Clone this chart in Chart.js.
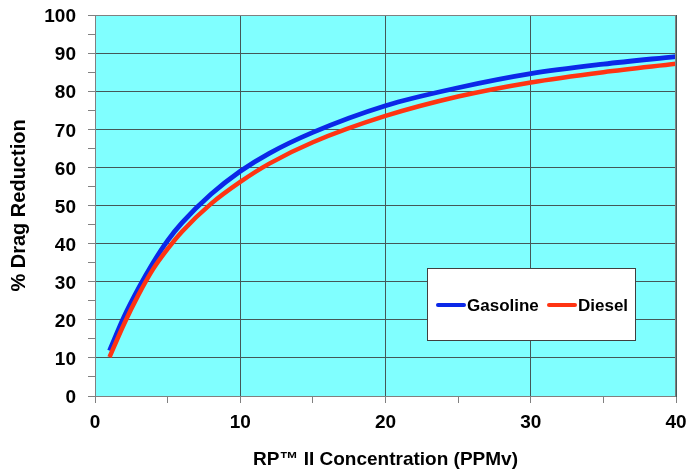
<!DOCTYPE html>
<html>
<head>
<meta charset="utf-8">
<script src="https://cdn.jsdelivr.net/npm/chart.js@4"></script>
<style>
  html, body { margin: 0; padding: 0; background: #fff; }
  #wrap { width: 688px; height: 470px; }
</style>
</head>
<body>
<div id="wrap"><canvas id="dragChart" width="688" height="470"></canvas></div>
<script>
/* ================== DATA ================== */
const concentration = [1, 2, 3, 4, 5, 6, 8, 10, 12, 15, 20, 25, 30, 35, 40];
const gasoline = [11.9, 20.8, 28.3, 35.0, 40.8, 45.5, 53.0, 59.0, 63.7, 69.2, 76.2, 80.9, 84.6, 87.1, 89.1];
const diesel   = [10.2, 18.9, 26.6, 33.3, 38.6, 43.2, 50.5, 56.2, 61.0, 66.6, 73.5, 78.6, 82.3, 85.0, 87.2];
const seriesNames = ["Gasoline", "Diesel"];

/* ================== STYLE ================== */
const FONT = "'Liberation Sans', Arial, sans-serif";
const GRID = "#445858";
const EDGE = "#808080";

function points(values) {
  return concentration.map((c, i) => ({ x: c, y: values[i] }));
}

function majorOnly(v) {
  return v % 10 === 0 ? v : "";
}

/* ================== PLUGINS ================== */
const plotBackground = {
  id: "plotBackground",
  beforeDraw(chart) {
    const { ctx, chartArea: a } = chart;
    ctx.save();
    ctx.fillStyle = "#80ffff";
    ctx.fillRect(a.left, a.top, a.right - a.left, a.bottom - a.top);
    ctx.restore();
  },
  afterDatasetsDraw(chart) {
    const { ctx, chartArea: a } = chart;
    ctx.save();
    ctx.strokeStyle = EDGE;
    ctx.lineWidth = 1;
    ctx.strokeRect(a.left + 0.5, a.top + 0.5, a.right - a.left - 1, a.bottom - a.top);
    ctx.restore();
  }
};

// legend box sits inside the plot, drawn from the dataset labels/colours
const boxLegend = {
  id: "boxLegend",
  afterDraw(chart) {
    const { ctx } = chart;
    const ds = chart.data.datasets;
    ctx.save();
    ctx.fillStyle = "#fff";
    ctx.fillRect(427, 268, 209, 73);
    ctx.strokeStyle = "#404040";
    ctx.lineWidth = 1;
    ctx.strokeRect(427.5, 268.5, 208, 72);

    ctx.font = "bold 17px " + FONT;
    ctx.textBaseline = "middle";
    ctx.textAlign = "left";
    const y = 305;
    const starts = [438, 549];
    ds.forEach((d, i) => {
      const x = starts[i];
      ctx.strokeStyle = d.borderColor;
      ctx.lineWidth = 4;
      ctx.lineCap = "round";
      ctx.beginPath();
      ctx.moveTo(x, y);
      ctx.lineTo(x + 26, y);
      ctx.stroke();
      ctx.fillStyle = "#000";
      ctx.fillText(d.label, x + 29, y + 1);
    });
    ctx.restore();
  }
};

/* ================== CHART ================== */
const chart = new Chart(document.getElementById("dragChart"), {
  type: "line",
  data: {
    datasets: [
      {
        label: seriesNames[0],
        data: points(gasoline),
        borderColor: "#0b28e8",
        borderWidth: 4.8,
        pointRadius: 0,
        cubicInterpolationMode: "monotone",
        order: 1
      },
      {
        label: seriesNames[1],
        data: points(diesel),
        borderColor: "#ff3412",
        borderWidth: 4.5,
        pointRadius: 0,
        cubicInterpolationMode: "monotone",
        order: 0
      }
    ]
  },
  options: {
    responsive: false,
    animation: false,
    devicePixelRatio: 1,
    layout: { padding: { top: 15, right: 12, left: 0, bottom: 0 } },
    plugins: {
      legend: { display: false },
      tooltip: { enabled: false }
    },
    scales: {
      x: {
        type: "linear",
        min: 0,
        max: 40,
        afterFit: s => { s.height = 74; s.paddingLeft = 0; s.paddingRight = 0; },
        border: { display: true, color: GRID, width: 1 },
        grid: {
          color: c => (c.tick.value % 10 === 0 ? GRID : "rgba(0,0,0,0)"),
          tickColor: EDGE,
          tickLength: 7,
          lineWidth: 1
        },
        ticks: {
          stepSize: 5,
          autoSkip: false,
          maxRotation: 0,
          padding: 8,
          color: "#000",
          font: { family: FONT, size: 19, weight: "bold" },
          callback: majorOnly
        },
        title: {
          display: true,
          text: "RP\u2122 II Concentration (PPMv)",
          color: "#000",
          padding: { top: 0, bottom: -1 },
          font: { family: FONT, size: 19, weight: "bold" }
        }
      },
      y: {
        min: 0,
        max: 100,
        afterFit: s => { s.width = 95; s.paddingTop = 0; s.paddingBottom = 0; },
        border: { display: true, color: EDGE, width: 1 },
        grid: {
          color: c => (c.tick.value % 10 === 0 ? GRID : "rgba(0,0,0,0)"),
          tickColor: EDGE,
          tickLength: 7,
          lineWidth: 1
        },
        ticks: {
          stepSize: 5,
          autoSkip: false,
          padding: 12,
          labelOffset: 2,
          color: "#000",
          font: { family: FONT, size: 19, weight: "bold" },
          callback: majorOnly
        },
        title: {
          display: true,
          text: "% Drag Reduction",
          color: "#000",
          padding: { top: 7, bottom: 0 },
          font: { family: FONT, size: 20, weight: "bold" }
        }
      }
    }
  },
  plugins: [plotBackground, boxLegend]
});
</script>
</body>
</html>
